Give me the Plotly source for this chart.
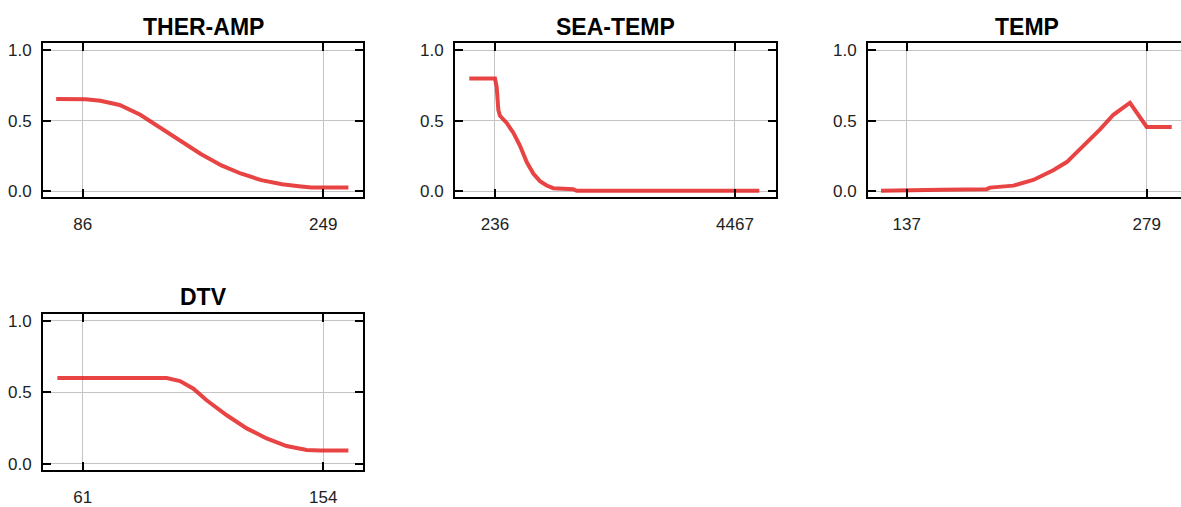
import plotly.graph_objects as go

# ---------------- data ----------------
titles = ["THER-AMP", "SEA-TEMP", "TEMP", "DTV"]

ther_amp_x = [68, 80, 88, 98, 111, 125, 139, 152, 166, 180, 193, 207, 221, 234, 241, 266]
ther_amp_y = [0.655, 0.655, 0.653, 0.642, 0.612, 0.543, 0.450, 0.358, 0.265, 0.184, 0.127, 0.080, 0.051, 0.035, 0.028, 0.028]

sea_temp_x = [-217, 236, 266, 295, 324, 442, 559, 677, 795, 911, 1029, 1147, 1264, 1440, 1617, 1676, 4896]
sea_temp_y = [0.80, 0.80, 0.739, 0.577, 0.536, 0.485, 0.416, 0.323, 0.208, 0.127, 0.073, 0.042, 0.023, 0.016, 0.016, 0.004, 0.004]

temp_x = [121.8, 156.7, 157.7, 184.3, 186.3, 200.1, 211.9, 223.7, 231.7, 241.5, 251.4, 259.3, 269.1, 279.0, 293.8]
temp_y = [0.004, 0.004, 0.011, 0.016, 0.027, 0.041, 0.081, 0.150, 0.208, 0.323, 0.439, 0.543, 0.628, 0.457, 0.457]

dtv_x = [51.2, 93.5, 98.6, 103.8, 108.9, 116.7, 124.4, 132.1, 139.8, 147.6, 152.7, 163.7]
dtv_y = [0.60, 0.60, 0.579, 0.526, 0.445, 0.340, 0.248, 0.178, 0.125, 0.097, 0.093, 0.093]

x_ticks = [[86, 249], [236, 4467], [137, 279], [61, 154]]
y_ticks = [0.0, 0.5, 1.0]
y_tick_text = ["0.0", "0.5", "1.0"]

series = [(ther_amp_x, ther_amp_y), (sea_temp_x, sea_temp_y), (temp_x, temp_y), (dtv_x, dtv_y)]

# ---------------- layout geometry ----------------
W, H = 1181, 507
# pixel boxes (left, right, top, bottom)
boxes = [(43, 363, 42, 199), (455, 776, 42, 199), (868, 1181, 42, 199), (43, 363, 318, 477)]
x_ranges = [[59.1, 275.9], [-469, 5190], [114.1, 299.3], [45.65, 169.35]]
y_range = [-0.04, 1.05]

FONT = "Liberation Sans, Arial, sans-serif"
RED = "rgba(228,35,35,0.85)"

fig = go.Figure()
layout = dict(
    width=W, height=H, margin=dict(l=0, r=0, t=0, b=0),
    paper_bgcolor="white", plot_bgcolor="white", showlegend=False,
    font=dict(family=FONT, size=17, color="#222"),
)
annotations = []
for i, ((xs, ys), (l, r, t, b)) in enumerate(zip(series, boxes)):
    n = i + 1
    xa = "xaxis" if n == 1 else f"xaxis{n}"
    ya = "yaxis" if n == 1 else f"yaxis{n}"
    xr = "x" if n == 1 else f"x{n}"
    yr = "y" if n == 1 else f"y{n}"
    fig.add_trace(go.Scatter(x=xs, y=ys, mode="lines", xaxis=xr, yaxis=yr,
                             line=dict(color=RED, width=4), hoverinfo="skip"))
    layout[xa] = dict(
        domain=[l / W, r / W], anchor=yr, range=x_ranges[i],
        tickmode="array", tickvals=x_ticks[i], ticktext=[str(v) for v in x_ticks[i]],
        showgrid=True, gridcolor="#c4c4c4", gridwidth=1, zeroline=False,
        showline=True, linecolor="black", linewidth=2, mirror="ticks",
        ticks="inside", ticklen=8, tickwidth=2, tickcolor="black",
        ticklabelstandoff=11, tickfont=dict(size=17, family=FONT, color="#222"),
    )
    layout[ya] = dict(
        domain=[1 - b / H, 1 - t / H], anchor=xr, range=y_range,
        tickmode="array", tickvals=y_ticks, ticktext=y_tick_text,
        showgrid=True, gridcolor="#c4c4c4", gridwidth=1, zeroline=False,
        showline=True, linecolor="black", linewidth=2,
        mirror=("ticks" if n != 3 else False),
        ticks="inside", ticklen=8, tickwidth=2, tickcolor="black",
        ticklabelstandoff=6, tickfont=dict(size=17, family=FONT, color="#222"),
    )
    annotations.append(dict(
        text=f"<b>{titles[i]}</b>", x=(l + r) / 2 / W if n != 3 else (868 + 1186) / 2 / W,
        y=1 - (t - 17) / H, xref="paper", yref="paper",
        xanchor="center", yanchor="middle", showarrow=False,
        font=dict(size=23, family=FONT, color="black"),
    ))

# right-side ticks for the TEMP panel (frame is cut at the page edge)
layout["yaxis5"] = dict(
    overlaying="y3", anchor="x3", side="right", range=y_range,
    tickmode="array", tickvals=y_ticks, showticklabels=False,
    showgrid=False, zeroline=False, showline=False,
    ticks="inside", ticklen=3, tickwidth=2, tickcolor="black",
)
layout["annotations"] = annotations
fig.update_layout(**layout)
fig.write_html("out.html")
